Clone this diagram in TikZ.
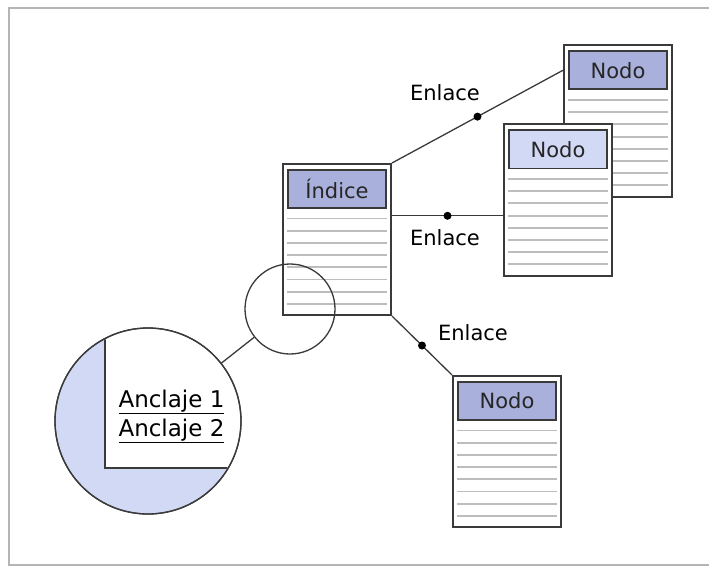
\documentclass[tikz,border=0pt]{standalone}
\usepackage{fontspec}
\setmainfont{DejaVu Sans}
\usepackage{tikz}
\usetikzlibrary{positioning,calc,shapes.geometric}
\definecolor{borde}{HTML}{3A3A3A}
\definecolor{azulosc}{HTML}{A9B0DB}
\definecolor{azulcla}{HTML}{D2D9F5}
\definecolor{renglongris}{HTML}{BDBDBD}
\definecolor{marco}{HTML}{B4B4B4}
\tikzstyle{hoja} = [rectangle,minimum width=108pt,minimum height=151pt,draw=borde,line width=2pt,fill=white,inner sep=0pt]
\tikzstyle{cabecera} = [rectangle,minimum width=98pt,minimum height=38pt,draw=borde,line width=1.5pt,inner sep=0pt,text=black!85]
\tikzstyle{renglon} = [renglongris,line width=1.9pt]
\tikzstyle{enlace} = [borde,line width=1.3pt]
\tikzstyle{punto} = [circle,fill=black,inner sep=0pt,minimum size=8pt]
\tikzstyle{lupa} = [circle,draw=borde,line width=1.3pt,inner sep=0pt]
% una hoja: nombre, x, y, texto, color de la cabecera
\newcommand{\hoja}[5]{%
\node (#1) [hoja] at (#2,#3) {};
\node (#1h) [cabecera,fill=#5,below=6pt of #1.north] {#4};
\foreach \k in {0,...,7}
  \draw[renglon] ([yshift={-(10+12.2*\k)*1pt}]#1h.south west) -- ([yshift={-(10+12.2*\k)*1pt}]#1h.south east);
}

\begin{document}
\begin{tikzpicture}[x=1pt,y=-1pt]
\tikzstyle{every node}=[font=\fontsize{21}{25}\selectfont]
\useasboundingbox (0,0) rectangle (709,567);

% marco
\draw[marco,line width=1.5pt] (709,8) -- (9,8) -- (9,565) -- (709,565);

% hojas, 1px = 1pt
\hoja{nb}{618}{121}{Nodo}{azulosc}
\hoja{nf}{558}{200}{Nodo}{azulcla}
\hoja{idx}{337}{239.5}{Índice}{azulosc}
\hoja{nd}{507}{451.5}{Nodo}{azulosc}

\coordinate (e2) at ($(idx.north east)!0.345!(idx.south east)$);

\draw[enlace] (idx.north east) -- node[punto,pos=0.5] (d1) {} (nbh.west -| nb.west);
\draw[enlace] (e2) -- node[punto,pos=0.5] (d2) {} (e2 -| nf.west);
\draw[enlace] (idx.south east) -- node[punto,pos=0.5] (d3) {} (nd.north west);

\node (lbl1) at (445,93) {Enlace};
\node (lbl2) at (445,238) {Enlace};
\node (lbl3) at (473,333) {Enlace};

% lupa
\node (chica) [lupa,minimum size=90pt] at (290,309) {};
\node (grande) [lupa,minimum size=186pt,fill=azulcla] at (148,421) {};
\begin{scope}
\clip (grande.center) circle[radius=92pt];
\fill[white] (105,300) rectangle (260,468);
\draw[borde,line width=1.5pt] (105,300) |- (260,468);
\end{scope}
\draw[lupa] (grande.center) circle[radius=93pt];
\draw[enlace] (chica) -- (grande);

\node (anc1) [anchor=base west,font=\fontsize{23}{27}\selectfont] at (115,407) {\underline{Anclaje 1}};
\node (anc2) [anchor=base west,font=\fontsize{23}{27}\selectfont] at (115,436) {\underline{Anclaje 2}};
\end{tikzpicture}
\end{document}
